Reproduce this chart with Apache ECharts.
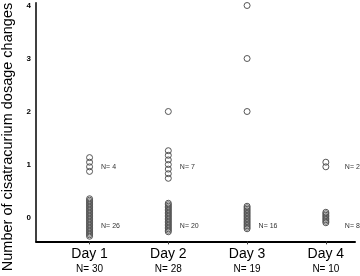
<!DOCTYPE html>
<html>
<head>
<meta charset="utf-8">
<script src="https://cdn.jsdelivr.net/npm/echarts@6/dist/echarts.min.js"></script>
<style>html,body{margin:0;padding:0;background:#fff}#c{width:360px;height:276px}</style>
</head>
<body>
<div id="c"></div>
<script>
// ---- data ----
const days = ['Day 1', 'Day 2', 'Day 3', 'Day 4'];
const totals = [30, 28, 19, 10];
const changeValues = [0, 1, 2, 3, 4];
const countsAt0 = [26, 20, 16, 8];
const countsAt1 = [4, 7, 0, 2];
const countsAt2 = [0, 1, 1, 0];
const countsAt3 = [0, 0, 1, 0];
const countsAt4 = [0, 0, 1, 0];
const yTicks = [0, 1, 2, 3, 4];

const countsByValue = [countsAt0, countsAt1, countsAt2, countsAt3, countsAt4];
const FONT = '"Liberation Sans", Arial, sans-serif';

// build stacked points: [dayPos, value, rank, n]
const points = [];
const groups = [];
days.forEach((d, di) => {
  changeValues.forEach((v, vi) => {
    const n = countsByValue[vi][di];
    for (let r = 0; r < n; r++) points.push([di + 1, v, r, n]);
    if (n > 1) groups.push([di + 1, v, n, di]);
  });
});

const chart = echarts.init(document.getElementById('c'), null, {renderer: 'canvas'});
chart.setOption({
  animation: false,
  backgroundColor: '#fff',
  grid: {left: 36, right: 5, top: 2.85, bottom: 34.65},
  xAxis: {
    type: 'value', min: 0.32, max: 4.37,
    splitLine: {show: false},
    axisLine: {show: true, onZero: false, lineStyle: {color: '#000', width: 2}},
    axisTick: {show: true, customValues: [1, 2, 3, 4], length: 3, lineStyle: {color: '#333', width: 1}},
    axisLabel: {
      customValues: [1, 2, 3, 4], margin: 5,
      formatter: v => {
        const i = Math.round(v) - 1;
        return '{a|' + days[i] + '}\n{b|N= ' + totals[i] + '}';
      },
      rich: {
        a: {fontFamily: FONT, fontSize: 14, lineHeight: 16, color: '#000'},
        b: {fontFamily: FONT, fontSize: 10, lineHeight: 14, color: '#000'}
      }
    }
  },
  yAxis: {
    type: 'value', min: -0.45, max: 4.05,
    splitLine: {show: false},
    axisLine: {show: true, onZero: false, lineStyle: {color: '#000', width: 1.5}},
    axisTick: {show: false},
    axisLabel: {
      customValues: yTicks, margin: 5,
      fontFamily: FONT, fontSize: 8, fontWeight: 'bold', color: '#000',
      formatter: v => String(Math.round(v))
    }
  },
  graphic: [{
    type: 'text', x: 8, y: 137, rotation: Math.PI / 2,
    style: {text: 'Number of cisatracurium dosage changes', fontFamily: FONT, fontSize: 14.5,
      fill: '#000', align: 'center', verticalAlign: 'middle'}
  }],
  series: [{
    type: 'custom',
    coordinateSystem: 'cartesian2d',
    data: points,
    renderItem: (params, api) => {
      const p = api.coord([api.value(0), api.value(1)]);
      const n = api.value(3), r = api.value(2);
      const step = n > 7 ? 1.5 : 4.6;
      const dy = (r - (n - 1) / 2) * step;
      return {
        type: 'circle',
        shape: {cx: p[0], cy: p[1] - dy, r: 3},
        style: {fill: 'none', stroke: '#555', lineWidth: 1}
      };
    }
  }, {
    type: 'custom',
    coordinateSystem: 'cartesian2d',
    data: groups,
    renderItem: (params, api) => {
      const p = api.coord([api.value(0), api.value(1)]);
      const di = api.value(3);
      const dx = di === 3 ? 19 : 11.5;
      const dy = api.value(1) === 0 ? 9 : 3;
      return {
        type: 'text',
        x: p[0] + dx, y: p[1] + dy,
        style: {text: 'N= ' + api.value(2), fontFamily: FONT, fontSize: 7, fill: '#333',
          align: 'left', verticalAlign: 'middle'}
      };
    }
  }]
});
</script>
</body>
</html>
